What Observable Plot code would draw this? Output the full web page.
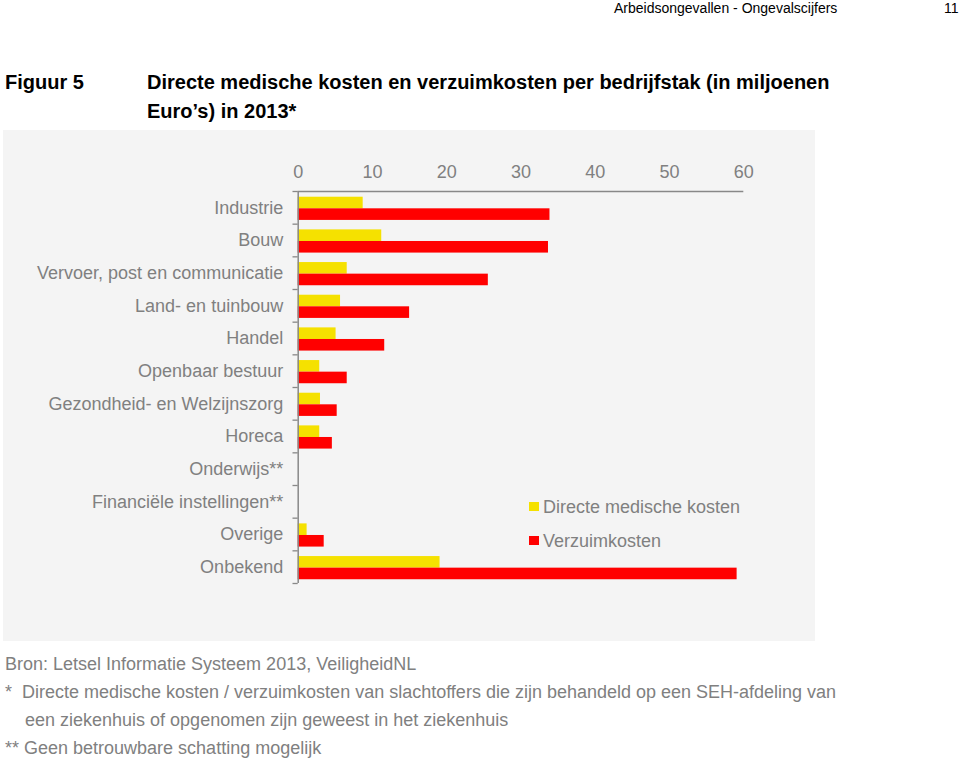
<!DOCTYPE html>
<html><head><meta charset="utf-8">
<script src="https://cdn.jsdelivr.net/npm/d3@7"></script>
<script src="https://cdn.jsdelivr.net/npm/@observablehq/plot@0.6"></script>
<style>
body{margin:0;background:#fff;font-family:"Liberation Sans",Arial,sans-serif;width:960px;height:761px;position:relative;overflow:hidden}
.abs{position:absolute;white-space:nowrap}
#panel{position:absolute;left:3px;top:130px;width:812px;height:511px;background:#f4f4f4}
#panel svg{display:block;position:absolute;left:0;top:0}
.foot{color:#808080;font-size:18px}
.lg{position:absolute;font-size:18px;color:#808080}
.sw{position:absolute;width:10px;height:9px}
</style></head><body>
<div class="abs" style="left:614px;top:0px;font-size:14px;color:#000">Arbeidsongevallen - Ongevalscijfers</div>
<div class="abs" style="left:944px;top:0px;font-size:14px;color:#000">11</div>
<div class="abs" style="left:5px;top:71px;font-size:20px;font-weight:bold">Figuur 5</div>
<div class="abs" style="left:147px;top:71px;font-size:20px;font-weight:bold">Directe medische kosten en verzuimkosten per bedrijfstak (in miljoenen</div>
<div class="abs" style="left:147px;top:100px;font-size:20px;font-weight:bold">Euro’s) in 2013*</div>
<div id="panel"></div>
<div class="abs foot" style="left:5px;top:654px">Bron: Letsel Informatie Systeem 2013, VeiligheidNL</div>
<div class="abs foot" style="left:5px;top:682px">*&nbsp;&nbsp;Directe medische kosten / verzuimkosten van slachtoffers die zijn behandeld op een SEH-afdeling van</div>
<div class="abs foot" style="left:25px;top:710px">een ziekenhuis of opgenomen zijn geweest in het ziekenhuis</div>
<div class="abs foot" style="left:5px;top:738px">** Geen betrouwbare schatting mogelijk</div>
<script>
const categories = ["Industrie","Bouw","Vervoer, post en communicatie","Land- en tuinbouw","Handel","Openbaar bestuur","Gezondheid- en Welzijnszorg","Horeca","Onderwijs**","Financiële instellingen**","Overige","Onbekend"];
const medisch = [8.75,11.25,6.6,5.7,5.1,2.9,3.0,2.9,null,null,1.2,19.1];
const verzuim = [33.9,33.7,25.6,15.0,11.65,6.6,5.25,4.6,null,null,3.5,59.1];
const xTicks = [0,10,20,30,40,50,60];
const seriesNames = ["Directe medische kosten","Verzuimkosten"];
const colors = ["#f5e100","#ff0000"];

const W = 812, H = 511;
const mL = 294.7, mR = 71.7, mT = 61, mB = 58;
const band = (H - mT - mB) / categories.length;
const rows = categories.map((c,i)=>({cat:c, med:medisch[i], verz:verzuim[i]}));
const gray = "#888888";

const chart = Plot.plot({
  width: W, height: H,
  marginLeft: mL, marginRight: mR, marginTop: mT, marginBottom: mB,
  style: {background:"transparent", fontFamily:"'Liberation Sans', Arial, sans-serif", fontSize:"18px", color:"#808080"},
  x: {domain:[0,60], axis:"top", ticks: xTicks, tickSize:0, tickPadding:14, label:null},
  y: {domain: categories, padding:0, round:false, tickSize:0, tickPadding:15, label:null},
  marks: [
    Plot.barX(rows.filter(d=>d.med!=null), {x:"med", y:"cat", fill:colors[0], insetTop: band*0.175, insetBottom: band*0.47}),
    Plot.barX(rows.filter(d=>d.verz!=null), {x:"verz", y:"cat", fill:colors[1], insetTop: band*0.53, insetBottom: band*0.115}),
    Plot.ruleX([0], {stroke:gray, strokeWidth:1.5}),
    Plot.ruleY([categories[0]], {x1:0, x2:60, stroke:gray, strokeWidth:1.5, dy:-band/2}),
    Plot.ruleX(xTicks, {x:d=>d, y:()=>categories[0], stroke:gray, strokeWidth:1.3, insetTop:-4, insetBottom: band-2.5}),
    Plot.ruleY(categories, {y:d=>d, x1:-0.7, x2:0, stroke:gray, strokeWidth:1.3, dy:-band/2}),
    Plot.ruleY([categories[categories.length-1]], {x1:-0.7, x2:0, stroke:gray, strokeWidth:1.3, dy:band/2})
  ]
});
const panel = document.getElementById("panel");
panel.appendChild(chart);
// legend
seriesNames.forEach((n,i)=>{
  const top = 366.5 + i*34.3;
  const sw = document.createElement("div");
  sw.className="sw"; sw.style.left="526px"; sw.style.top=(top+5.5)+"px"; sw.style.background=colors[i];
  const tx = document.createElement("div");
  tx.className="lg"; tx.style.left="540px"; tx.style.top=top+"px"; tx.style.whiteSpace="nowrap"; tx.textContent=n;
  panel.appendChild(sw); panel.appendChild(tx);
});
</script>
</body></html>
